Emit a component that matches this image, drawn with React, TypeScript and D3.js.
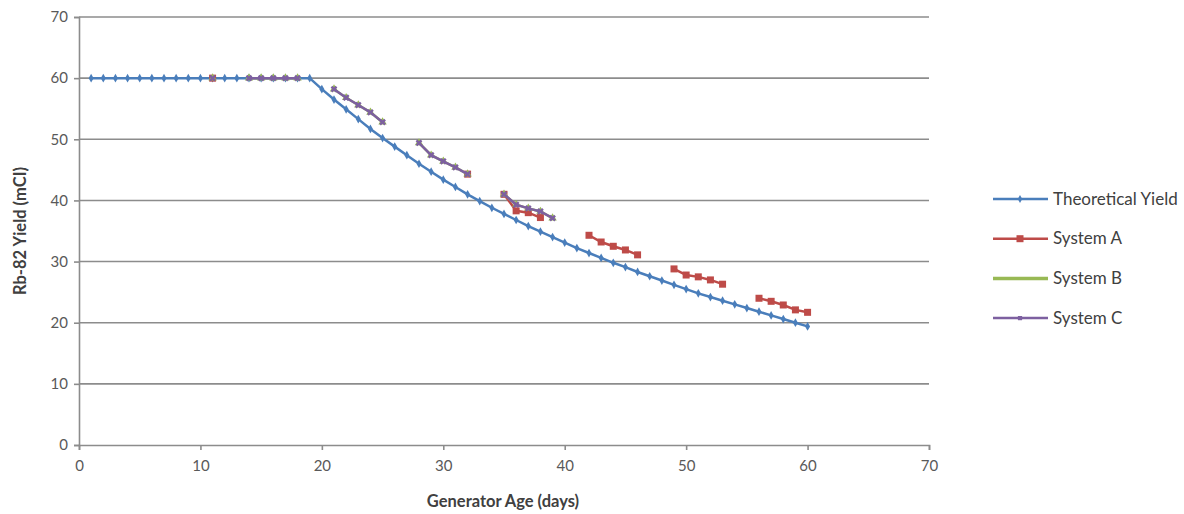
import React, { useEffect, useRef } from "react";
import * as d3 from "d3";

// generator age (days) for the theoretical curve
const theoDays = d3.range(1, 61);
const theoValues = [
  60, 60, 60, 60, 60, 60, 60, 60, 60, 60,
  60, 60, 60, 60, 60, 60, 60, 60, 60, 58.2,
  56.5, 54.9, 53.3, 51.7, 50.2, 48.8, 47.4, 46.0, 44.7, 43.4,
  42.2, 41.0, 39.9, 38.8, 37.8, 36.8, 35.8, 34.9, 34.0, 33.1,
  32.2, 31.4, 30.6, 29.8, 29.1, 28.3, 27.6, 26.9, 26.2, 25.5,
  24.8, 24.2, 23.6, 23.0, 22.4, 21.8, 21.2, 20.6, 20.0, 19.4,
];

// measured systems
const sysADays = [11, 32, 35, 36, 37, 38, 42, 43, 44, 45, 46, 49, 50, 51, 52, 53, 56, 57, 58, 59, 60];
const sysAValues = [60, 44.3, 41.0, 38.3, 38.0, 37.2, 34.3, 33.2, 32.5, 31.9, 31.1, 28.8, 27.8, 27.5, 27.0, 26.3, 24.0, 23.5, 22.9, 22.1, 21.7];

const sysBDays = [11, 14, 15, 16, 17, 18, 21, 22, 23, 24, 25, 28, 29, 30, 31, 32, 35, 36, 37, 38, 39];
const sysBValues = [60, 60, 60, 60, 60, 60, 58.2, 56.8, 55.6, 54.4, 52.8, 49.4, 47.4, 46.4, 45.4, 44.3, 41.0, 39.3, 38.7, 38.2, 37.1];

const sysCDays = [11, 14, 15, 16, 17, 18, 21, 22, 23, 24, 25, 28, 29, 30, 31, 32, 35, 36, 37, 38, 39];
const sysCValues = [60, 60, 60, 60, 60, 60, 58.2, 56.8, 55.6, 54.4, 52.8, 49.4, 47.4, 46.4, 45.4, 44.3, 41.0, 39.3, 38.7, 38.2, 37.1];

const seriesNames = ["Theoretical Yield", "System A", "System B", "System C"];
const seriesColors = ["#4a7ebb", "#be4b48", "#98b954", "#7d60a0"];
const xTicks = [0, 10, 20, 30, 40, 50, 60, 70];
const yTicks = [0, 10, 20, 30, 40, 50, 60, 70];

const App = () => {
  const svgRef = useRef(null);
  const width = 1184;
  const height = 514;

  useEffect(() => {
    const svg = d3.select(svgRef.current);
    svg.selectAll("*").remove();

    const font = "Lato, 'Liberation Sans', sans-serif";
    const x = d3.scaleLinear().domain([0, 70]).range([79, 929]);
    const y = d3.scaleLinear().domain([0, 70]).range([445, 17]);

    // gridlines
    svg
      .append("g")
      .selectAll("line")
      .data(yTicks.filter((t) => t > 0))
      .enter()
      .append("line")
      .attr("x1", x(0))
      .attr("x2", x(70))
      .attr("y1", (d) => y(d))
      .attr("y2", (d) => y(d))
      .attr("stroke", "#8c8c8c")
      .attr("stroke-width", 1.6);

    // axes
    const yAxis = d3.axisLeft(y).tickValues(yTicks).tickSize(5).tickPadding(6);
    const xAxis = d3.axisBottom(x).tickValues(xTicks).tickSize(5).tickPadding(10);

    const yg = svg.append("g").attr("transform", `translate(${x(0)},0)`).call(yAxis);
    const xg = svg.append("g").attr("transform", `translate(0,${y(0)})`).call(xAxis);
    [yg, xg].forEach((g) => {
      g.select(".domain").attr("stroke", "#8c8c8c").attr("stroke-width", 1.6);
      g.selectAll(".tick line").attr("stroke", "#8c8c8c").attr("stroke-width", 1.6);
      g.selectAll("text")
        .attr("fill", "#595959")
        .style("font-family", font)
        .style("font-size", "15px");
    });

    const series = [
      { days: theoDays, values: theoValues },
      { days: sysADays, values: sysAValues },
      { days: sysBDays, values: sysBValues },
      { days: sysCDays, values: sysCValues },
    ];

    const line = d3
      .line()
      .x((d) => x(d[0]))
      .y((d) => y(d[1]));

    series.forEach((s, i) => {
      const pts = s.days.map((d, j) => [d, s.values[j]]);
      // break the line where days are not consecutive
      const segs = [];
      let cur = [];
      s.days.forEach((d, j) => {
        if (j > 0 && d - s.days[j - 1] > 1) {
          segs.push(cur);
          cur = [];
        }
        cur.push(pts[j]);
      });
      segs.push(cur);

      const g = svg.append("g");
      segs.forEach((seg) => {
        g.append("path")
          .attr("d", line(seg))
          .attr("fill", "none")
          .attr("stroke", seriesColors[i])
          .attr("stroke-width", 2.5);
      });

      const markers = g.selectAll(".m").data(pts).enter();
      if (i === 0) {
        markers
          .append("path")
          .attr("d", d3.symbol(d3.symbolDiamond, 22)())
          .attr("transform", (d) => `translate(${x(d[0])},${y(d[1])})`)
          .attr("fill", seriesColors[i]);
      } else if (i === 1) {
        markers
          .append("rect")
          .attr("x", (d) => x(d[0]) - 3.5)
          .attr("y", (d) => y(d[1]) - 3.5)
          .attr("width", 7)
          .attr("height", 7)
          .attr("fill", seriesColors[i]);
      } else if (i === 2) {
        markers
          .append("path")
          .attr("d", d3.symbol(d3.symbolTriangle, 30)())
          .attr("transform", (d) => `translate(${x(d[0])},${y(d[1])})`)
          .attr("fill", seriesColors[i]);
      } else {
        markers
          .append("path")
          .attr("d", d3.symbol(d3.symbolCross, 28)())
          .attr("transform", (d) => `translate(${x(d[0])},${y(d[1])}) rotate(45)`)
          .attr("fill", seriesColors[i]);
      }
    });

    // axis titles
    svg
      .append("text")
      .attr("x", 503)
      .attr("y", 507)
      .attr("text-anchor", "middle")
      .attr("fill", "#404040")
      .style("font-family", font)
      .style("font-size", "16.5px")
      .style("font-weight", "bold")
      .text("Generator Age (days)");

    svg
      .append("text")
      .attr("transform", "translate(26,231) rotate(-90)")
      .attr("text-anchor", "middle")
      .attr("fill", "#404040")
      .style("font-family", font)
      .style("font-size", "16.5px")
      .style("font-weight", "bold")
      .text("Rb-82 Yield (mCI)");

    // legend
    const legend = svg.append("g");
    seriesNames.forEach((name, i) => {
      const ly = 199 + i * 39.7;
      legend
        .append("line")
        .attr("x1", 993)
        .attr("x2", 1048)
        .attr("y1", ly)
        .attr("y2", ly)
        .attr("stroke", seriesColors[i])
        .attr("stroke-width", i === 2 ? 3.5 : 2.5);
      if (i === 1) {
        legend
          .append("rect")
          .attr("x", 1016.5)
          .attr("y", ly - 3.5)
          .attr("width", 7)
          .attr("height", 7)
          .attr("fill", seriesColors[i]);
      } else if (i !== 2) {
        legend
          .append("path")
          .attr("d", d3.symbol(i === 0 ? d3.symbolDiamond : d3.symbolSquare, 18)())
          .attr("transform", `translate(1020,${ly})`)
          .attr("fill", seriesColors[i]);
      }
      legend
        .append("text")
        .attr("x", 1053)
        .attr("y", ly + 5.5)
        .attr("fill", "#404040")
        .style("font-family", font)
        .style("font-size", "17px")
        .text(name);
    });
  }, []);

  return (
    <svg
      ref={svgRef}
      width={width}
      height={height}
      style={{ position: "absolute", left: 0, top: 0, background: "#fff" }}
    ></svg>
  );
};

export default App;
